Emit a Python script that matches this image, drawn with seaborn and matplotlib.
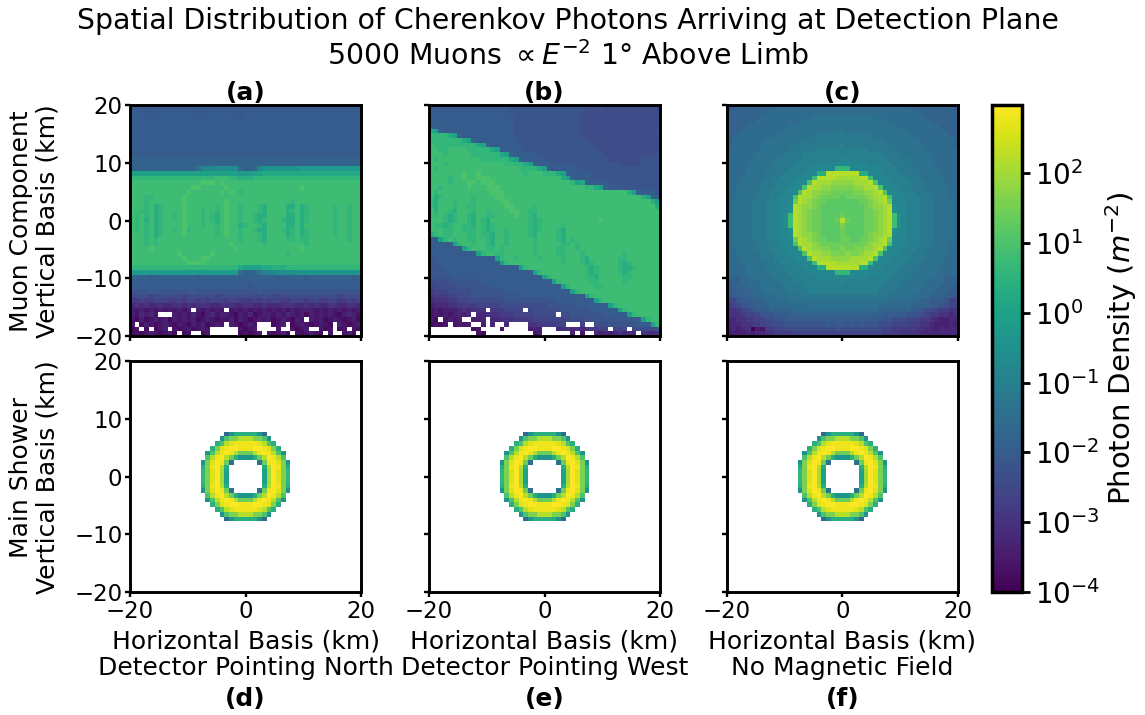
import numpy as np
import pandas as pd
import seaborn as sns
import matplotlib
matplotlib.use("Agg")
import matplotlib.pyplot as plt
from matplotlib.colors import LogNorm
from matplotlib.cm import ScalarMappable

# each char is one cell, log10(density) = -4 + 0.2 * index in levels, "." = no photons
levels = "0123456789abcdefghijklmnopqrstuvwxyz"
n_bins = 49
x_ticks = [-20, 0, 20]
y_ticks = [-20, -10, 0, 10, 20]
cbar_ticks = [1e-4, 1e-3, 1e-2, 1e-1, 1e0, 1e1, 1e2]

panel_a = [
    "aaaaaaaaaa aaaaaaaaaa aaaaaaaaaa aaaaaaaaaa aaaaaaaaa",
    "aaaa9aaaaa aaaa99aaaa aaaaaaaaaa aaaaaaaaaa aaaaaaaaa",
    "aaaaaaaaaa aaaaaaaaaa aaa9aaaaaa aaaaaaaaaa aaaaaaaaa",
    "aaaaaaaaaa aaaaaaaaaa aaaaaaaaaa aaaaaaaaaa aaaaaaaaa",
    "aaaaaaaaaa aaaaaaaaaa aaaaaaaaaa aaaaaaaaaa aaaaaaaaa",
    "aaaaaaaaaa aaaaaaaaaa aaaaaaaaaa aaaaaaaaaa aaaaaaaaa",
    "aaaaaaaaaa aaaaaaaaaa aaaaaaaaaa aaaaaaaaaa aaaaaaaaa",
    "aaaaaaaaaa aaaaaaaaaa aaaaaaaaaa aaaaaaaaaa aaaaaaaaa",
    "aaaaaaaaaa aaaaaaaaaa aaaaaaaaaa aaaaaaaaaa aaaaaaaaa",
    "aaaaaaaaaa aaaaaaaaaa aaaaaaaaaa aaaaaaaaaa aaaaaaaaa",
    "aaaaaaaaaa aaaaaaaaaa aaaaaaaaaa aaaaaaaaaa aaaaaaaaa",
    "bbbbbbbbbb bbbbbbbbbb bbbbbbbbbb bbbbbbbbbb bbbbbbbbb",
    "bbbbbbbbbb bbbbbbbbbb bbbbbbbbbb bbbbbbbbbb bbbbbbbbb",
    "bbbbbbbbbb bbbbdggghh hhhcbbbgii iiiiiijjjj jjjjjjjjj",
    "kkkkkkkkkk kkkkkkkkkk kkkjjjkkll llllllllll lllllllll",
    "nnnnnnnnnn nnnnnnnnoo onnmmmnnnn nnnnnnnnnn nnnnnnnnn",
    "oooooooooo ooooopppop oooooooooo oooooooooo ooooooooo",
    "oooooooooo oooppooooo pooooooooo oooooopooo ooooooooo",
    "oooooooooo oopoooooop oponoooooo oooooooooo ooooooooo",
    "ooonnooooo opoooooooo oooooooooo oooooooooo ooooooooo",
    "ooonoooooo opoooooooo pooooooooo oooonooooo ooooooooo",
    "ooonomnooo opoooooono poonooonmo ooommomnoo ooonoonoo",
    "oonnomnooo opooonoono poonooonmo ooomnomnoo ooonoonoo",
    "ononomnoon opooononmo poonoonmmo ooommomnoo ooonoonoo",
    "onomomnooo opooononmo poonoonmno oonmmomnoo ooonoonoo",
    "ononomnooo opooonoono poomnoonmo ooommomooo ooonoonoo",
    "ononomnoon opnooooono poonoonmmo oonmnomnoo ooonoonoo",
    "ooonomnooo opoooooono poonooonmo ooomnomnoo ooonoonoo",
    "ooononoooo oooooooooo ooonooonmo ooonnonnoo oooooonoo",
    "ooononoooo oooooooooo opoooooono ooooooonoo ooooooooo",
    "oooopooooo oooooooooo oopooooooo oooooopooo ooooooooo",
    "oooooooooo poooooopoo oooooooooo ooonoooooo ooooooooo",
    "oooooooooo opoooppooo oooooooooo oooooooooo ooooooooo",
    "oooooooooo ooppppoooo oooooooooo oooooooooo ooooooooo",
    "nnnnnnnnnn nnnnnnnnnn nnnlkkkkll mmmnnnnnnn nnnnnnnnn",
    "jjjjjjjjjj jjjjjjjjjj jjjcbbbeff ghhhhiiiii iiiiiiiii",
    "bbbbabbbbb bbbbabbbbb bbbbbbbbbb babbbbbabb bbbbbbbab",
    "aaaaaaaaaa aaaaaaaaaa aaaaaaaaaa aaaaaaaaaa aaaaaaaaa",
    "aaaaaaaaaa aaaaaaaaaa aaaaa9aaaa aaaaaaaaaa aaaaaaaaa",
    "9999a99999 999a999999 9999999a99 9999999999 999999999",
    "8888788888 8788888878 8888888888 8788888888 888878888",
    "6676677766 7677676777 6776667676 7766777677 667766767",
    "4545445445 5454555445 5544554454 4455544545 445544554",
    "3232323232 323.323232 .232323232 3232323332 323232323",
    "324342...3 2324213423 3213241233 2324323132 323213432",
    "2131232313 2323123212 2313212323 1232132.32 312321231",
    "2.13212321 3213231232 .321232... 123.123212 321.32123",
    "12.1.123.2 1231232... ...2123... .2..2123.. 212.12.21",
    "1212321231 .12..12... ...12123.2 1231.21232 1.2..231.",
]

panel_b = [
    "aaaaaaaaaa aaaaaaa999 9999999999 9998889888 888888888",
    "aaaaaaaaaa aaaaaaa999 9999999999 9998888888 888888888",
    "aaaaaaaaaa aaaaaaaa99 9999999999 9988888888 888888888",
    "aaaaaaaaaa aaaaaaaa99 9999999999 9988888888 888888888",
    "baaaaaaaaa aaaaaaaa99 9999999999 9988888888 888888888",
    "lkbaaaaaaa aaaaaaaa99 9999999999 9988888888 888888889",
    "nnnnlkbaaa aaaaaaaa99 9999999999 9988888888 888888888",
    "nnnnnnnlkb aaaaaaaaa9 9999999999 9999888888 888888888",
    "onnnnnnnnn lkbaaaaaa9 9999999999 9999988888 888888888",
    "oonnoooonn nnnlkaaaaa 9999999999 9999998888 888888888",
    "ooonooooon nnnnnlkbaa aaa9999999 9999999888 888888889",
    "onoooooooo onnnnnnlkb aaaaa99999 9999999988 888889999",
    "ooonoooooo oooooonnnn lkbaaaaaaa 9999999999 988889999",
    "onoooooooo ooooooooon nnnlkaaaaa aa99999999 999999999",
    "ooooooopoo pooooooooo nooonnnlkb aaaaa99999 999999999",
    "oooonoopoo pppooooooo oooooooolk baaaa99999 999999999",
    "oooonooopp opppoooooo oooooooooo nklbaaaa99 999999999",
    "oonooooopo oopppooooo oooooooooo ooonnlkbaa a99999999",
    "onoooooooo ooopppoooo oooooooooo oooooooooo oomkbaaa9",
    "omnoooooon ooooppoooo oooooooooo oooooooooo ooooomkba",
    "nmooonooon oooooppooo oooooooooo oooooooooo ooooooomk",
    "nmooonoonn ooooooppoo oonooooooo oooooooooo oooooooom",
    "omoonmooon oonooooppo onnooooooo oooooooooo ooooooooon",
    "ononmnoonm oonnoooopo onmooooooo oooooooooo ooooooooo",
    "ooonmnoonm onmooooooo onmnoooooo oooooopooo ooooooooo",
    "onnmnoonnm onmnoooooo onmnoooono oooooooooo ooooooooo",
    "ooonnoonnn onmnoonooo onmnooonmo oooooooooo ooooooooo",
    "mnonnooonn onnmoonooo onmoooonmo oooooooooo ooooooooo",
    "aaknonoonn oonmoonooo oonoooonmo nooooooooo ooooooooo",
    "aaaaaknoon oonmoonooo oonooooonn onoooooooo ooooooooo",
    "aaaaaaakno oonnonoooo oonoooonno onoooooooo ooooooooo",
    "aaaaaaaaaa knoonnoooo oonoooonno oonooooooo onooooooo",
    "9aaaaaaaaa aaaaknoono ooonoooono oonmoooooo nnooooooo",
    "99aaaaaaaa aaaaaknooo oooooooono oonmnooooo nmnoooooo",
    "999aaaaaaa aaaaaaaaak nooooooooo ooonmnoooo nmmnooooo",
    "9999aaaaaa aaaaaaaaaa aaknoooooo ooonmnoooo nmnoooooo",
    "99999aaaaa aaaaaaaaaa aaaaknoooo ooonnmoooo onnoooooo",
    "8888999999 9aaaaaaaaa aaaaaaknoo oooonnoooo onooooooo",
    "7788889999 999aaaaaaa aaaaaaaakn ooooonnooo ooooooooo",
    "6777888889 999999aaaa aaaaaaaaaa knoooooooo ooooooooo",
    "5666778889 999999999a aaaaaaaaaa aaaknooooo ooooooooo",
    "4555667788 8888889999 9999999aaa aaaaaknooo ooooooooo",
    "3444556666 7777788888 8888899999 9aaaaaaakn ooooooooo",
    "2323334545 55.6667777 .788888899 9999aaaaaa knooooooo",
    "232323434. 4455566677 7788888.88 9999999aaa aaknooooo",
    "21.2323..3 34.4455566 6677777778 8889999999 aaaaaknoo",
    "1212.2323. .3.4..4... .55666677. ..7..88899 9999aaakn",
    ".........1 2....2.... .343...455 45456677.7 78.888889",
    ".......... 21........ ..23...... 3.2..43434 5454.5545",
]

panel_c = [
    "aabbbbbbbb cccccccccc cccccccccc cccccccccb bbbbbbbaa",
    "bbbbbbbbcc cccccccccc cccccccccc cccccccccc cbbbbbbbb",
    "bbbbbbbccc ccccccccdd dddddddddd dccccccccc ccbbbbbbb",
    "bbbbbbcccc cccccddddd dddddddddd ddddcccccc cccbbbbbb",
    "bbbbcccccc cccddddddd dddddddddd ddddddcccc cccccbbbb",
    "bbbccccccc ccdddddddd ddddeddddd ddddddddcc ccccccbbb",
    "bbcccccccc ddddddddee eeeeeeeeee eddddddddc cccccccbb",
    "bcccccccdd ddddddeeee eeeeeeeeee eeeddddddd dcccccccb",
    "bccccccddd ddddeeeeee eeeefeeeee eeeeeddddd ddccccccb",
    "cccccccddd dddeeeeeef ffffffffff eeeeeedddd ddccccccc",
    "ccccccdddd ddeeeeffff ffffffffff fffeeeeddd dddcccccc",
    "cccccddddd eeeeefffff ffffgfffff ffffeeeeed ddddccccc",
    "cccccddddd eeeefffffg gggggggggg fffffeeeed ddddccccc",
    "ccccddddde eeeffffggg gggnnngggg ggffffeeee dddddcccc",
    "ccccddddee eeffffgggm mvvvvvvvmm gggffffeee eddddcccc",
    "cccdddddee effffgggov vvvuuuuuvv ogggffffee edddddccc",
    "cccddddeee ffffgggpvu uutttttuuu vpgggffffe eeddddccc",
    "ccdddddeee fffgggpvuu ttsssssttu uvpgggfffe eedddddcc",
    "ccddddeeef ffgggpvutt ssrrrrrsst tuvpgggfff eeeddddcc",
    "ccddddeeef fgggpvuuts rrrrqrrrrs tuuvpgggff feeedddcc",
    "cddddeeeff fgggrvutsr rqqqqqqqrr stuvrgggff feeeddddc",
    "cddddeeeff fgghvuttsr qqqqqqqqqr sttuvhggff feeeddddc",
    "cddddeeeff fgghvutsrr qqqqqqqqqr rstuvhggff feeeddddc",
    "cddddeeeff fghovutsrr qqqqrqqqqr rstuvohgff feeeddddc",
    "cddddeeeff fghovutsrr qqqrvrqqqr rstuvohgff feeeddddc",
    "cddddeeeff fghovutsrr qqqqsqqqqr rstuvohgff feeeddddc",
    "cddddeeeff fgghvutsrr qqqqrqqqqr rstuvhggff feeeddddc",
    "cddddeeeff fgghvuttsr qqqqrqqqqr sttuvhggff feeeddddc",
    "cddddeeeff fgggrvutsr rqqqrrqqrr stuvrgggff feeeddddc",
    "ccddddeeef fgggpvuuts rrrrrrrrrs tuuvpgggff feeedddcc",
    "ccddddeeef ffgggpvutt ssrrsrrsst tuvpgggfff eeeddddcc",
    "ccdddddeee fffgggpvuu ttssstsstu uvpgggfffe eedddddcc",
    "cccddddeee ffffgggpvu uuttttuuuu vpgggffffe eeddddccc",
    "cccdddddee effffgggov vvvuuuuuvv ogggffffee edddddccc",
    "ccccddddee eeffffgggm mvvvvvvvmm gggffffeee eddddcccc",
    "ccccddddde eeeffffggg gggnnngggg ggffffeeee dddddcccc",
    "bbbccddddd eeeefffffg gggggggggg fffffeeeed ddddccbbb",
    "bbbccccddd deeeffffff ffffgfffff ffffeeeedd ddccccbbb",
    "abbbcccddd ddeeeeffff ffffffffff fffeeeeddd ddcccbbba",
    "aabbbcccdd dddeeeefff ffffffffff ffeeeedddd dcccbbbaa",
    "9aabbbcccc dddddeeeee eeeeeeeeee eeeedddddc cccbbbaa9",
    "779aabbbcc cccddddddd dddddddddd ddddcccccc cbbaaa977",
    "6789aabbbc cccccccddd dddddddddd ddcccccccb bbbaa9877",
    "556789aaab bbbbcccccc cccccccccc ccbbbbbbba a98876655",
    "5556778999 aaabbbbbbb bbbbbbbbbb bbbaaaaa99 987665545",
    "4455667788 99aaaaaaaa aaaaaaaaaa aa99988877 766543344",
    "4445566778 8899999999 9a9aa9a9a9 9988877776 655433343",
    "3434503266 7788888888 8889888888 8887766666 554434444",
    "3333434455 6666777777 7777777777 7776666555 544444444",
]

ring_core = [
    ".....cimmmmmic.....",
    "....ipssvvvsspi....",
    "...mpvxyyyyyxvpm...",
    "..msxyzzyyyzzyxsm..",
    ".ipvyzyvrrrvyzyvpi.",
    ".pvyzvrmiiimrvzyvp.",
    "isxzyrd.....dryzxsi",
    "msyzvm.......mvzysm",
    "nsxzuk.......kuzxsn",
    "nsxzuk.......kuzxsn",
    "nsxzuk.......kuzxsn",
    "msyzvm.......mvzysm",
    "isxzyrd.....dryzxsi",
    ".pvyzvrmiiimrvzyvp.",
    ".ipvyzyvrrrvyzyvpi.",
    "..msxyzzyyyzzyxsm..",
    "...mpvxyyyyyxvpm...",
    "....ipssvvvsspi....",
    ".....cimmmmmic.....",
]
panel_ring = ["." * 49] * 15 + ["." * 15 + r + "." * 15 for r in ring_core] + ["." * 49] * 15

titles_top = ["(a)", "(b)", "(c)"]
titles_bottom = ["(d)", "(e)", "(f)"]
pointing = ["Detector Pointing North", "Detector Pointing West", "No Magnetic Field"]
row_names = ["Muon Component", "Main Shower"]


def decode(rows):
    grid = []
    for row in rows:
        row = row.replace(" ", "")
        row = row[:n_bins].ljust(n_bins, row[-1])
        grid.append([np.nan if c == "." else 10 ** (levels.index(c) * 0.2 - 4) for c in row])
    edges = np.linspace(-20, 20, n_bins + 1)
    mids = (edges[:-1] + edges[1:]) / 2
    return pd.DataFrame(grid, index=mids[::-1], columns=mids)


def to_cell(value):
    return (value + 20) * n_bins / 40


W, H = 1145, 715
fig = plt.figure(figsize=(W / 100, H / 100), dpi=100)
norm = LogNorm(vmin=1e-4, vmax=950)

lefts = [130, 429, 727]
tops = [105, 361]
size = 231
panels = [[panel_a, panel_b, panel_c], [panel_ring, panel_ring, panel_ring]]
fs = 18

for i, top in enumerate(tops):
    for j, left in enumerate(lefts):
        ax = fig.add_axes([left / W, 1 - (top + size) / H, size / W, size / H])
        sns.heatmap(decode(panels[i][j]), ax=ax, cmap="viridis", norm=norm, cbar=False,
                    xticklabels=False, yticklabels=False)
        for s in ax.spines.values():
            s.set_visible(True)
            s.set_linewidth(2.1)
        ax.set_xticks([to_cell(v) for v in x_ticks])
        ax.set_yticks([n_bins - to_cell(v) for v in y_ticks])
        ax.set_xticklabels([f"{v}".replace("-", "\u2212") for v in x_ticks] if i == 1 else [])
        ax.set_yticklabels([f"{v}".replace("-", "\u2212") for v in y_ticks] if j == 0 else [])
        ax.tick_params(length=3.5, width=1.7, labelsize=16.5, pad=2, rotation=0)
        ax.set_xlabel("")
        ax.set_ylabel("")
        cx = (left + size / 2) / W
        if i == 0:
            ax.set_title(titles_top[j], fontsize=fs, fontweight="bold", pad=1.5)
        else:
            fig.text(cx, 1 - 655 / H, "Horizontal Basis (km)\n" + pointing[j], ha="center", va="center",
                     fontsize=fs, linespacing=1.12)
            fig.text(cx, 1 - 699 / H, titles_bottom[j], ha="center", va="center", fontsize=fs, fontweight="bold")
        if j == 0:
            fig.text(34 / W, 1 - (top + 116) / H, row_names[i] + "\nVertical Basis (km)",
                     rotation=90, ha="center", va="center", fontsize=fs, linespacing=1.12)

cax = fig.add_axes([992 / W, 1 - 592 / H, 30 / W, 487 / H])
cb = fig.colorbar(ScalarMappable(norm=norm, cmap="viridis"), cax=cax)
cb.set_ticks(cbar_ticks)
cb.minorticks_off()
cb.ax.tick_params(labelsize=20, length=6, width=2)
cb.outline.set_linewidth(2.5)
cb.set_label("Photon Density ($m^{-2}$)", fontsize=21, labelpad=2)

fig.text(568 / W, 1 - 21 / H, "Spatial Distribution of Cherenkov Photons Arriving at Detection Plane",
         ha="center", va="center", fontsize=20.4)
fig.text(568 / W, 1 - 56 / H, "5000 Muons $\\propto E^{-2}$ 1\u00b0 Above Limb",
         ha="center", va="center", fontsize=20.4)

fig.savefig("out.png", dpi=100)
